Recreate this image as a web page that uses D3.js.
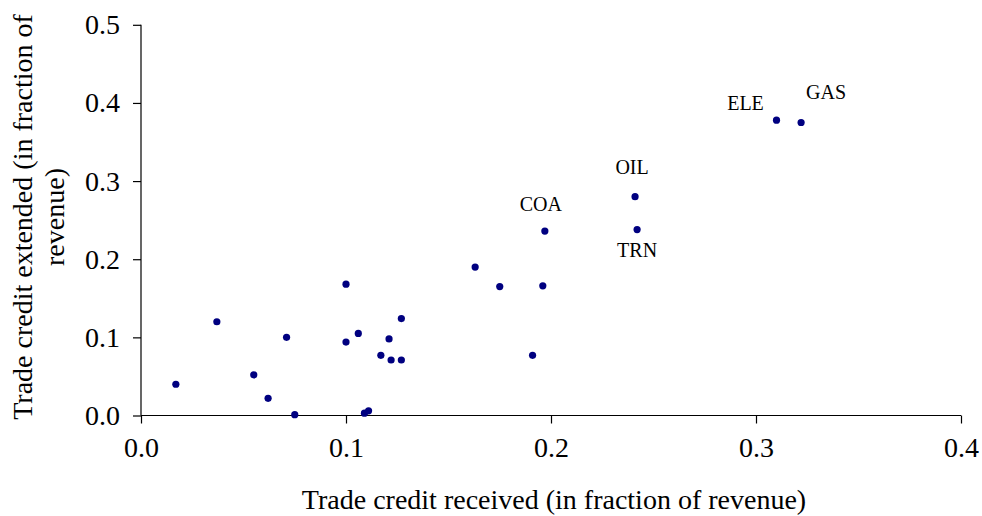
<!DOCTYPE html>
<html>
<head>
<meta charset="utf-8">
<script src="https://cdn.jsdelivr.net/npm/d3@7"></script>
<style>
  html, body { margin: 0; padding: 0; background: #fff; }
  svg { display: block; font-family: "Liberation Serif", "Times New Roman", serif; }
</style>
</head>
<body>
<svg id="chart" width="982" height="516"></svg>
<script>
// Trade credit received (x) vs trade credit extended (y), by industry
const received = [0.017, 0.037, 0.055, 0.062, 0.071, 0.075, 0.100, 0.100, 0.106, 0.109,
                  0.111, 0.117, 0.121, 0.122, 0.127, 0.127, 0.163, 0.175, 0.191, 0.196,
                  0.197, 0.241, 0.242, 0.310, 0.322];
const extended = [0.040, 0.120, 0.052, 0.022, 0.100, 0.001, 0.168, 0.094, 0.105, 0.003,
                  0.006, 0.077, 0.098, 0.071, 0.124, 0.071, 0.190, 0.165, 0.077, 0.166,
                  0.236, 0.280, 0.238, 0.378, 0.375];
const industry = ["", "", "", "", "", "", "", "", "", "",
                  "", "", "", "", "", "", "", "", "", "",
                  "COA", "OIL", "TRN", "ELE", "GAS"];

const xTicks = [0.0, 0.1, 0.2, 0.3, 0.4];
const yTicks = [0.0, 0.1, 0.2, 0.3, 0.4, 0.5];

// label placement relative to the point (dx, dy in px; dy is baseline offset)
const labelOffset = {
  COA: [-4, -20],
  OIL: [-3, -23],
  TRN: [0, 27],
  ELE: [-31, -10],
  GAS: [25, -23]
};

const svg = d3.select("#chart");
const plotL = 141, plotR = 961, plotT = 24.8, plotB = 415.5;

const x = d3.scaleLinear().domain([0, 0.4]).range([plotL, plotR]);
const y = d3.scaleLinear().domain([0, 0.5]).range([plotB, plotT]);

const fmt = d3.format(".1f");

// x axis
const gx = svg.append("g")
  .attr("transform", `translate(0,${plotB})`)
  .call(d3.axisBottom(x).tickValues(xTicks).tickFormat(fmt).tickSize(8).tickPadding(14));

// y axis
const gy = svg.append("g")
  .attr("transform", `translate(${plotL},0)`)
  .call(d3.axisLeft(y).tickValues(yTicks).tickFormat(fmt).tickSize(8).tickPadding(13));

[gx, gy].forEach(g => {
  g.select(".domain").attr("stroke", "#000").attr("stroke-width", 1.2);
  g.selectAll(".tick line").attr("stroke", "#000").attr("stroke-width", 1.2);
  g.selectAll(".tick text")
    .attr("fill", "#000")
    .style("font-family", "'Liberation Serif', 'Times New Roman', serif")
    .style("font-size", "28px");
});
gx.select(".domain").attr("d", `M${plotL},0H${plotR}`);
gy.select(".domain").attr("d", `M0,${plotT}V${plotB}`);

// axis titles
svg.append("text")
  .attr("x", (plotL + plotR) / 2 + 3)
  .attr("y", 509)
  .attr("text-anchor", "middle")
  .style("font-size", "28px")
  .attr("fill", "#000")
  .text("Trade credit received (in fraction of revenue)");

const yTitle = svg.append("text")
  .attr("transform", "translate(0,217) rotate(-90)")
  .attr("text-anchor", "middle")
  .style("font-size", "28px")
  .attr("fill", "#000");
yTitle.append("tspan").attr("x", 0).attr("y", 32).text("Trade credit extended (in fraction of");
yTitle.append("tspan").attr("x", 0).attr("y", 64).text("revenue)");

// points
const pts = received.map((v, i) => ({ x: v, y: extended[i], name: industry[i] }));

svg.append("g")
  .selectAll("circle")
  .data(pts)
  .join("circle")
  .attr("cx", d => x(d.x))
  .attr("cy", d => y(d.y))
  .attr("r", 3.6)
  .attr("fill", "#000080");

// industry labels
svg.append("g")
  .selectAll("text")
  .data(pts.filter(d => d.name))
  .join("text")
  .attr("x", d => x(d.x) + labelOffset[d.name][0])
  .attr("y", d => y(d.y) + labelOffset[d.name][1])
  .attr("text-anchor", "middle")
  .style("font-size", "20px")
  .attr("fill", "#000")
  .text(d => d.name);
</script>
</body>
</html>
